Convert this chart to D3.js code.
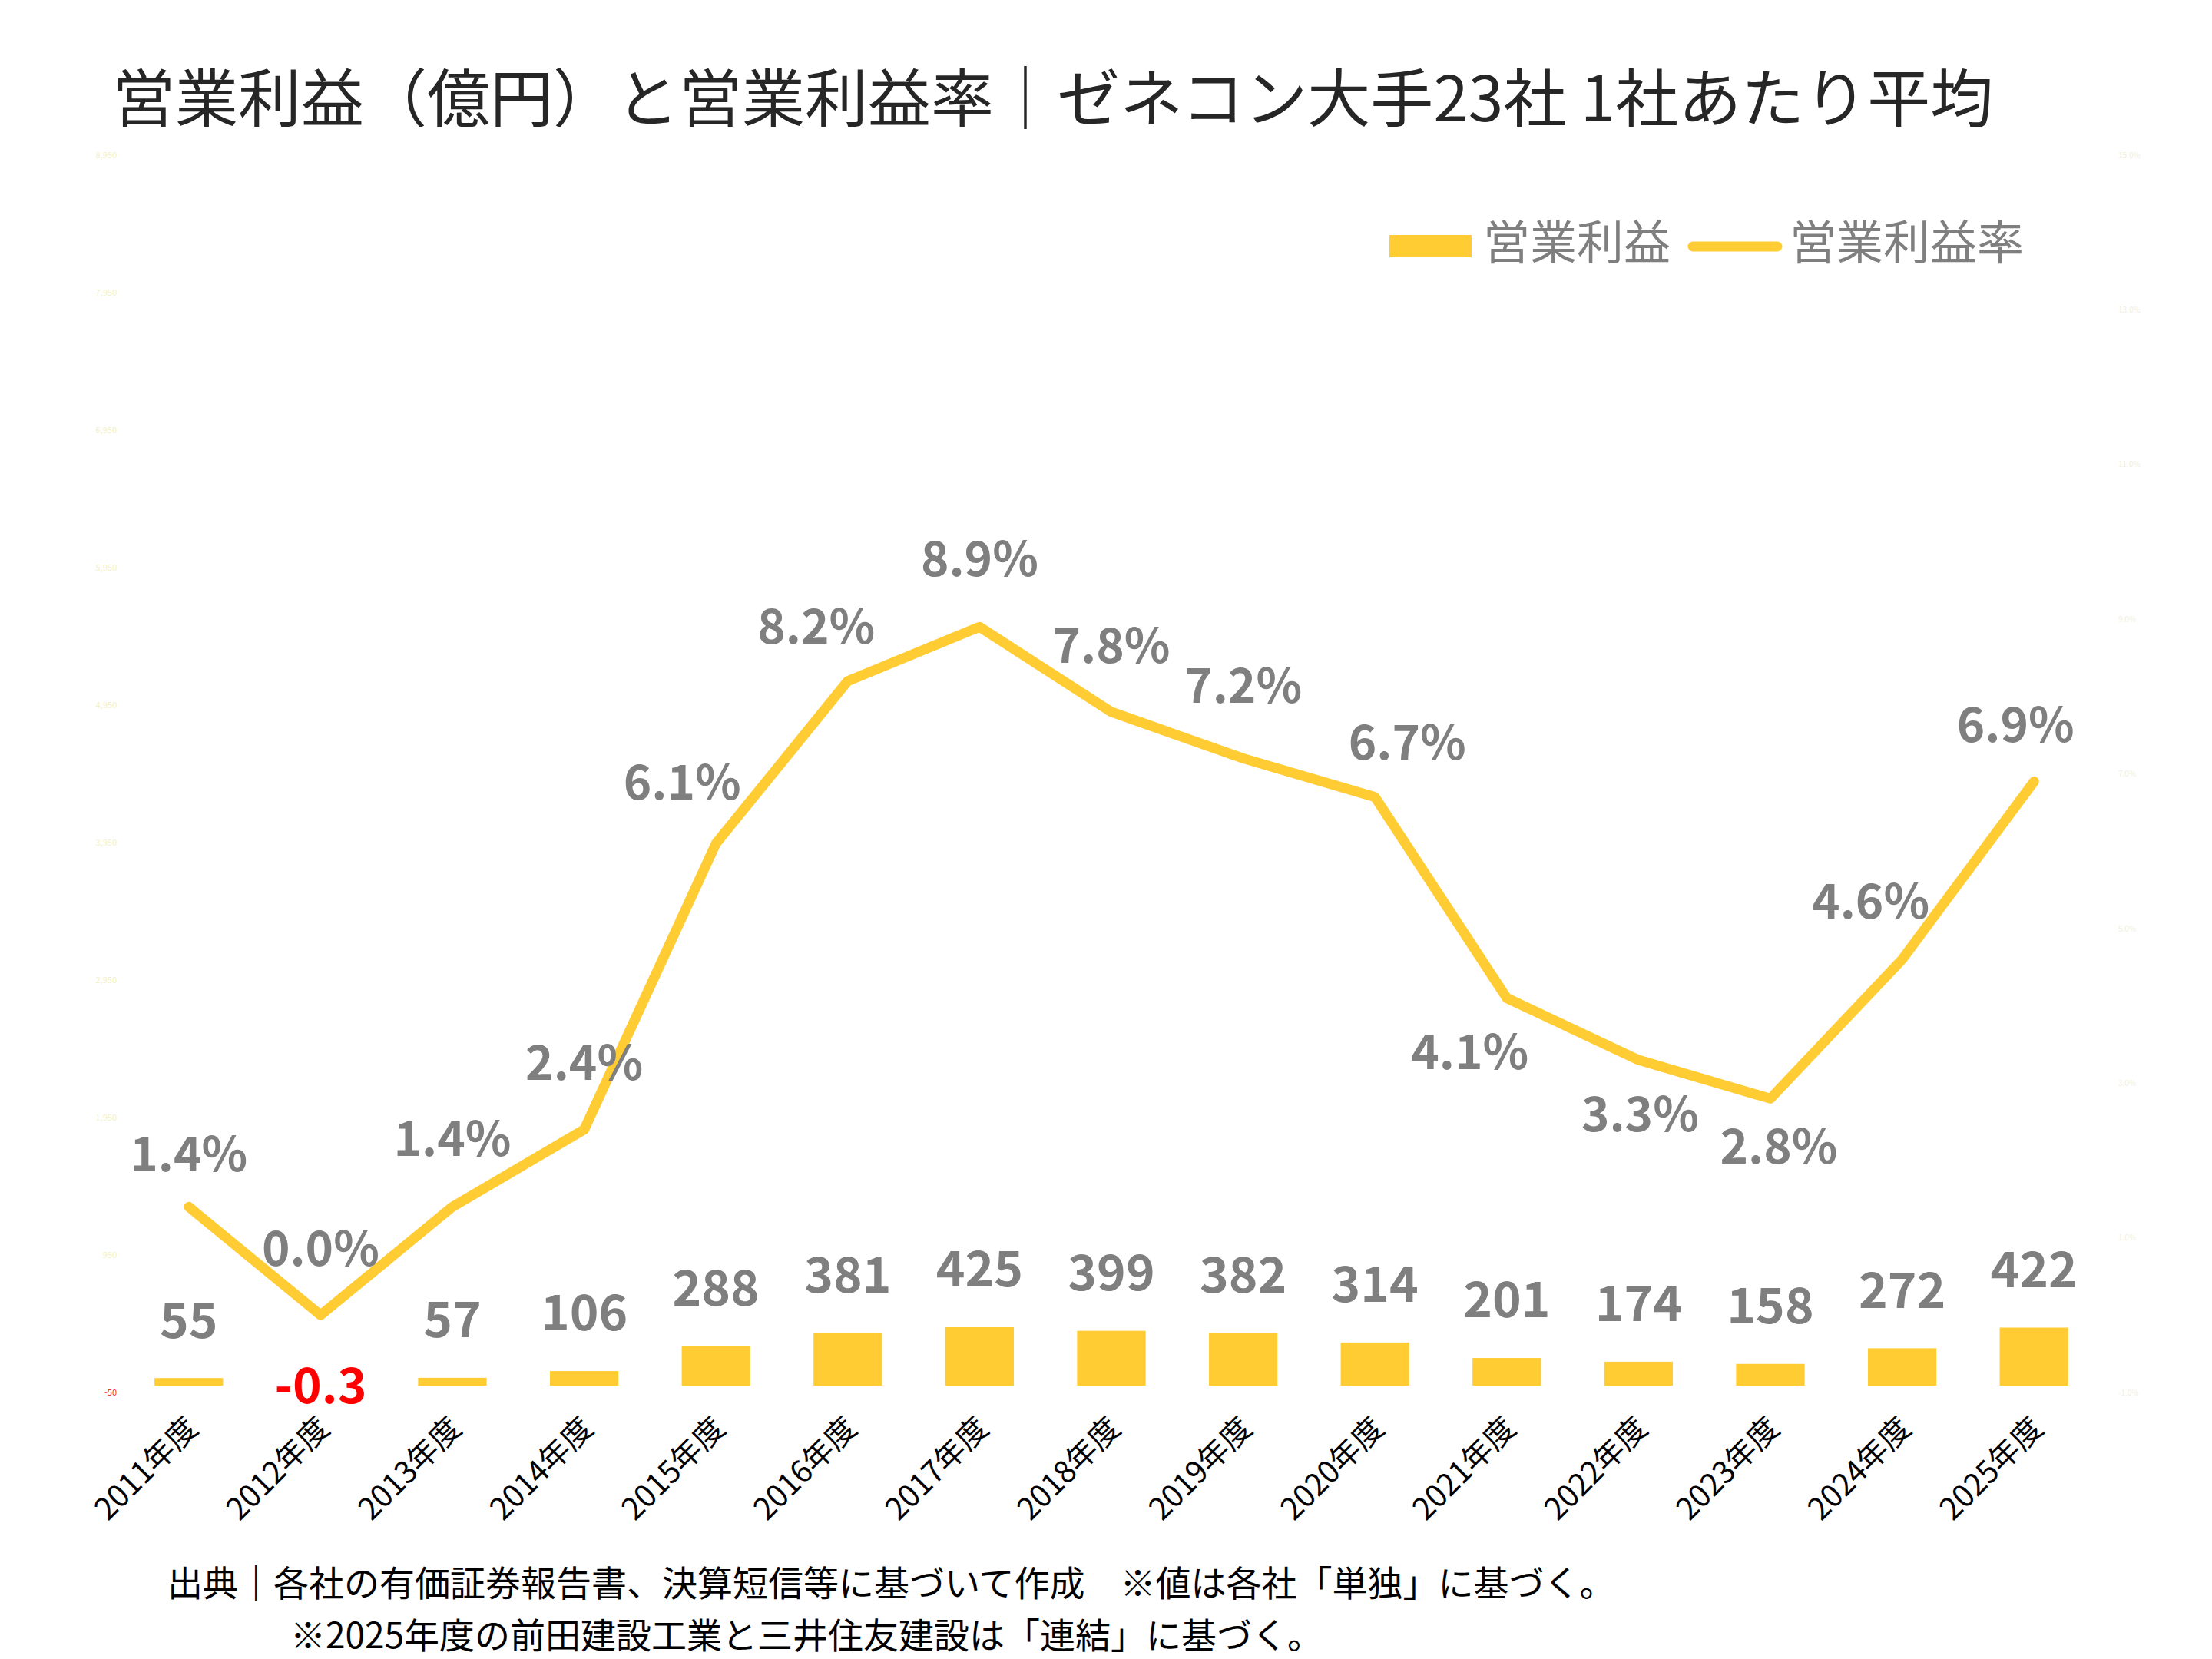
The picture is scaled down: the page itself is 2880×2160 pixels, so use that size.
<!DOCTYPE html>
<html><head><meta charset="utf-8">
<script src="https://cdn.jsdelivr.net/npm/d3@7"></script>
<style>body{margin:0;background:#fff}svg{display:block}text{font-family:"Noto Sans CJK JP","Noto Sans",sans-serif}</style>
</head><body>
<script>
const years = ["2011年度","2012年度","2013年度","2014年度","2015年度","2016年度","2017年度","2018年度","2019年度","2020年度","2021年度","2022年度","2023年度","2024年度","2025年度"];
const profit = [55,-0.3,57,106,288,381,425,399,382,314,201,174,158,272,422];
const margin = [1.4,0.0,1.4,2.4,6.1,8.2,8.9,7.8,7.2,6.7,4.1,3.3,2.8,4.6,6.9];
const leftTicks = [-50,950,1950,2950,3950,4950,5950,6950,7950,8950];
const rightTicks = [-1,1,3,5,7,9,11,13,15];
// label offsets (dx, dy) for margin labels
const labelOffsets = [[0,-63],[0,-81],[0,-83],[0,-81],[-44,-74],[-41,-66],[0,-83],[0,-81],[0,-89],[42,-66],[-48,76],[2,76],[11,68],[-41,-70],[-24,-68]];

const W=2880,H=2160, Y0=1813, YTOP=202;
const svg=d3.select("body").append("svg").attr("width",W).attr("height",H);
const x=d3.scaleBand().domain(years).range([160,2734]).paddingInner(0.48).paddingOuter(0.24);
const yL=d3.scaleLinear().domain([-50,8950]).range([Y0,YTOP]);
const yR=d3.scaleLinear().domain([-1,15]).range([Y0,YTOP]);
const col="#FFCC33", gray="#7f7f7f";
const cx=d=>x(d)+x.bandwidth()/2;

// faint axes
svg.append("g").attr("transform","translate(155,0)").call(d3.axisLeft(yL).tickValues(leftTicks).tickSize(0).tickFormat(d=>d===-50?"-50":d3.format(",")(d)))
 .call(g=>g.select(".domain").remove())
 .call(g=>g.selectAll("text").attr("fill",(d)=>d===-50?"#ff3030":"#f2f2c8").attr("font-size",11));
svg.append("g").attr("transform","translate(2755,0)").call(d3.axisRight(yR).tickValues(rightTicks).tickSize(0).tickFormat(d=>d.toFixed(1)+"%"))
 .call(g=>g.select(".domain").remove())
 .call(g=>g.selectAll("text").attr("fill","#f0f0e0").attr("font-size",10));

// bars
svg.selectAll("rect.bar").data(years).join("rect").attr("x",d=>x(d)).attr("width",x.bandwidth())
 .attr("y",(d,i)=>yL(Math.max(0,profit[i]))).attr("height",(d,i)=>Math.abs(yL(profit[i])-yL(0))).attr("fill",col);

// line
svg.append("path").datum(margin).attr("fill","none").attr("stroke",col).attr("stroke-width",13).attr("stroke-linejoin","round").attr("stroke-linecap","round")
 .attr("d",d3.line().x((d,i)=>cx(years[i])).y(d=>yR(d)));

// bar labels
svg.selectAll("text.bl").data(years).join("text").attr("text-anchor","middle").attr("dominant-baseline","middle")
 .attr("x",d=>cx(d)).attr("y",(d,i)=>profit[i]<0?yL(0)+6:yL(profit[i])-70)
 .attr("font-size",64).attr("font-weight","bold").attr("fill",(d,i)=>profit[i]<0?"#ff0000":gray)
 .text((d,i)=>profit[i]);

// margin labels
svg.selectAll("text.ml").data(years).join("text").attr("text-anchor","middle").attr("dominant-baseline","middle")
 .attr("x",(d,i)=>cx(d)+labelOffsets[i][0]).attr("y",(d,i)=>yR(margin[i])+labelOffsets[i][1])
 .attr("font-size",62).attr("font-weight","bold").attr("fill",gray)
 .text((d,i)=>margin[i].toFixed(1)+"%");

// x labels
svg.selectAll("text.xl").data(years).join("text").attr("text-anchor","end")
 .attr("transform",d=>`translate(${cx(d)+14},${1862}) rotate(-45)`)
 .attr("font-size",40).attr("fill","#000").text(d=>d);

// title
svg.append("text").attr("x",146).attr("y",136).attr("dominant-baseline","middle").attr("font-size",82).attr("fill","#262626")
 .text("営業利益（億円）と営業利益率｜ゼネコン大手23社 1社あたり平均");

// legend
svg.append("rect").attr("x",1809).attr("y",306).attr("width",107).attr("height",29).attr("fill",col);
svg.append("text").attr("x",1931).attr("y",321).attr("dominant-baseline","middle").attr("font-size",61).attr("fill",gray).text("営業利益");
svg.append("line").attr("x1",2204).attr("x2",2314).attr("y1",321).attr("y2",321).attr("stroke",col).attr("stroke-width",13).attr("stroke-linecap","round");
svg.append("text").attr("x",2330).attr("y",321).attr("dominant-baseline","middle").attr("font-size",61).attr("fill",gray).text("営業利益率");

// footnote
svg.append("text").attr("x",218).attr("y",2066).attr("dominant-baseline","middle").attr("font-size",46).attr("fill","#000")
 .text("出典｜各社の有価証券報告書、決算短信等に基づいて作成　※値は各社「単独」に基づく。");
svg.append("text").attr("x",378).attr("y",2134).attr("dominant-baseline","middle").attr("font-size",46).attr("fill","#000")
 .text("※2025年度の前田建設工業と三井住友建設は「連結」に基づく。");
</script>
</body></html>
